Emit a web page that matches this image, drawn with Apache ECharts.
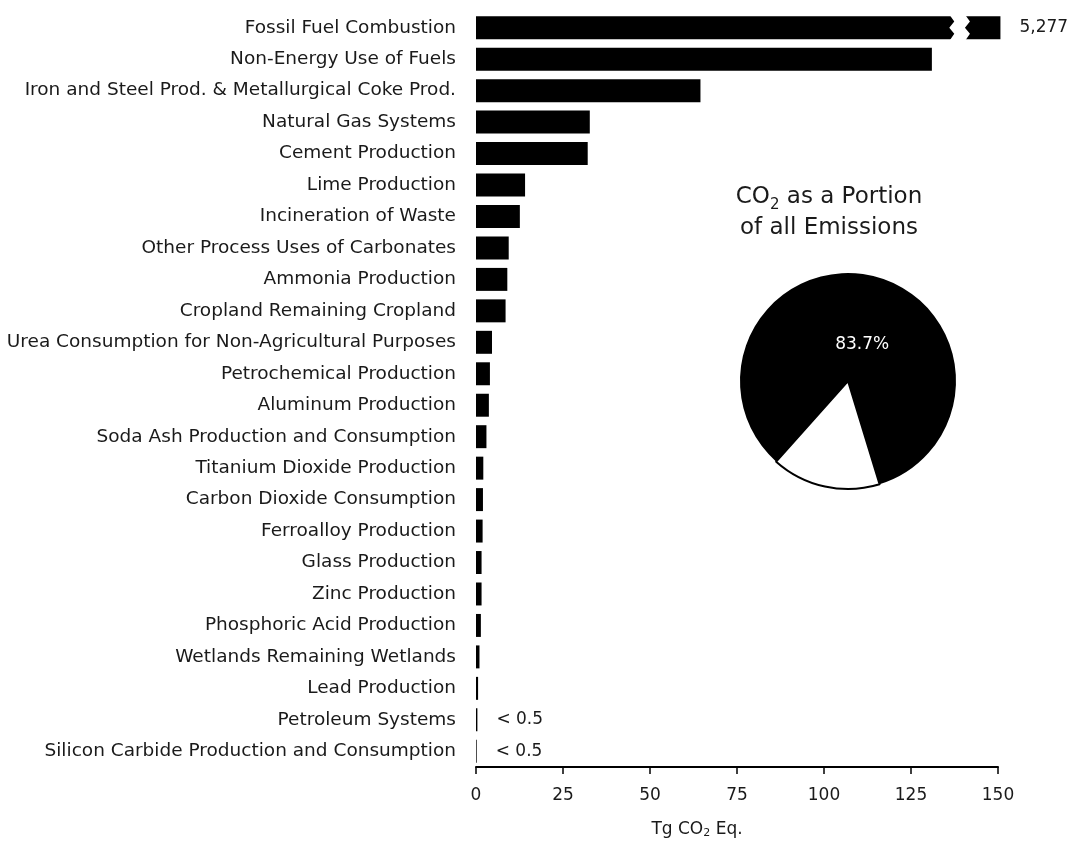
<!DOCTYPE html>
<html>
<head>
<meta charset="utf-8">
<script src="https://cdn.jsdelivr.net/npm/echarts@6/dist/echarts.min.js"></script>
<style>
html,body{margin:0;padding:0;background:#fff;}
#chart{width:1074px;height:844px;}
</style>
</head>
<body>
<div id="chart"></div>
<script>
var categories = [
  'Fossil Fuel Combustion',
  'Non-Energy Use of Fuels',
  'Iron and Steel Prod. & Metallurgical Coke Prod.',
  'Natural Gas Systems',
  'Cement Production',
  'Lime Production',
  'Incineration of Waste',
  'Other Process Uses of Carbonates',
  'Ammonia Production',
  'Cropland Remaining Cropland',
  'Urea Consumption for Non-Agricultural Purposes',
  'Petrochemical Production',
  'Aluminum Production',
  'Soda Ash Production and Consumption',
  'Titanium Dioxide Production',
  'Carbon Dioxide Consumption',
  'Ferroalloy Production',
  'Glass Production',
  'Zinc Production',
  'Phosphoric Acid Production',
  'Wetlands Remaining Wetlands',
  'Lead Production',
  'Petroleum Systems',
  'Silicon Carbide Production and Consumption'
];
var values = [5277, 131.0, 64.5, 32.7, 32.1, 14.1, 12.6, 9.4, 9.0, 8.5, 4.6, 4.0, 3.7, 3.0, 2.1, 2.0, 1.9, 1.6, 1.6, 1.4, 1.0, 0.6, 0.4, 0.2];
var valueLabels = ['5,277', '', '', '', '', '', '', '', '', '', '', '', '', '', '', '', '', '', '', '', '', '', '< 0.5', '< 0.5'];
var xTicks = {min: 0, max: 150, interval: 25};
var breakRange = [136.0, 140.5];
var pieNames = ['Other Gases', 'CO2'];
var pieValues = [16.3, 83.7];

var FONT = '"DejaVu Sans", sans-serif';
var TXT = '#1a1a1a';
var capAt = xTicks.max + 0.7;

var barData = values.map(function (v, i) {
  return {
    value: Math.min(v, capAt),
    label: {show: valueLabels[i] !== '', formatter: valueLabels[i]}
  };
});

var chart = echarts.init(document.getElementById('chart'), null, {renderer: 'canvas'});
chart.setOption({
  animation: false,
  backgroundColor: '#fff',
  title: {
    text: 'CO{sub|2} as a Portion\nof all Emissions',
    left: 824, top: 177, textAlign: 'center',
    textStyle: {
      fontFamily: FONT, fontSize: 23, fontWeight: 'normal', color: TXT, lineHeight: 31,
      rich: {sub: {fontFamily: FONT, fontSize: 15, color: TXT, verticalAlign: 'bottom', padding: [12, 0, 0, 0]}}
    }
  },
  grid: {left: 476, right: 76, top: 12, bottom: 74, containLabel: false},
  xAxis: {
    type: 'value', min: xTicks.min, max: xTicks.max, interval: xTicks.interval,
    axisLine: {show: true, lineStyle: {color: '#000', width: 2}},
    axisTick: {show: true, length: 7, lineStyle: {color: '#000', width: 1.5}},
    splitLine: {show: false},
    axisLabel: {fontFamily: FONT, fontSize: 17, color: TXT, margin: 20},
    name: 'Tg CO{sub|2} Eq.',
    nameLocation: 'middle', nameGap: 53,
    nameTextStyle: {
      fontFamily: FONT, fontSize: 17, color: TXT, padding: [0, 80, 0, 0],
      rich: {sub: {fontFamily: FONT, fontSize: 11, color: TXT, padding: [8, 0, 0, 0]}}
    }
  },
  yAxis: {
    type: 'category', data: categories, inverse: true,
    axisLine: {show: false}, axisTick: {show: false},
    axisLabel: {fontFamily: FONT, fontSize: 18.5, color: TXT, margin: 20}
  },
  series: [
    {
      type: 'bar', data: barData, clip: false,
      barCategoryGap: '27%',
      itemStyle: {color: '#000'},
      label: {position: 'right', distance: 19, fontFamily: FONT, fontSize: 17, color: TXT}
    },
    {
      type: 'custom', clip: false, z: 5,
      data: [[breakRange[0], breakRange[1], 0]],
      renderItem: function (params, api) {
        var p0 = api.coord([api.value(0), api.value(2)]);
        var p1 = api.coord([api.value(1), api.value(2)]);
        var h = api.size([0, 1])[1] * 0.78;
        var top = p0[1] - h / 2;
        var x0 = p0[0], x1 = p1[0], a = 5;
        var pts = [
          [x0, top - 1], [x0 + a, top + h * 0.25], [x0, top + h * 0.5], [x0 + a, top + h * 0.75], [x0, top + h + 1],
          [x1, top + h + 1], [x1 + a, top + h * 0.75], [x1, top + h * 0.5], [x1 + a, top + h * 0.25], [x1, top - 1]
        ];
        return {type: 'polygon', shape: {points: pts}, style: {fill: '#fff', stroke: null}};
      }
    },
    {
      type: 'pie', center: [848, 381], radius: [0, 108],
      startAngle: -73, clockwise: true,
      data: pieValues.map(function (v, i) {
        return {
          name: pieNames[i], value: v,
          itemStyle: i === 0 ? {color: '#fff', borderColor: '#000', borderWidth: 2} : {color: '#000', borderColor: '#000', borderWidth: 0},
          label: i === 0 ? {show: false} : {show: true, position: 'inside', formatter: v.toFixed(1) + '%', color: '#fff', fontFamily: FONT, fontSize: 17, offset: [2, 19]}
        };
      }),
      labelLine: {show: false},
      emphasis: {disabled: true}
    }
  ]
});
</script>
</body>
</html>
